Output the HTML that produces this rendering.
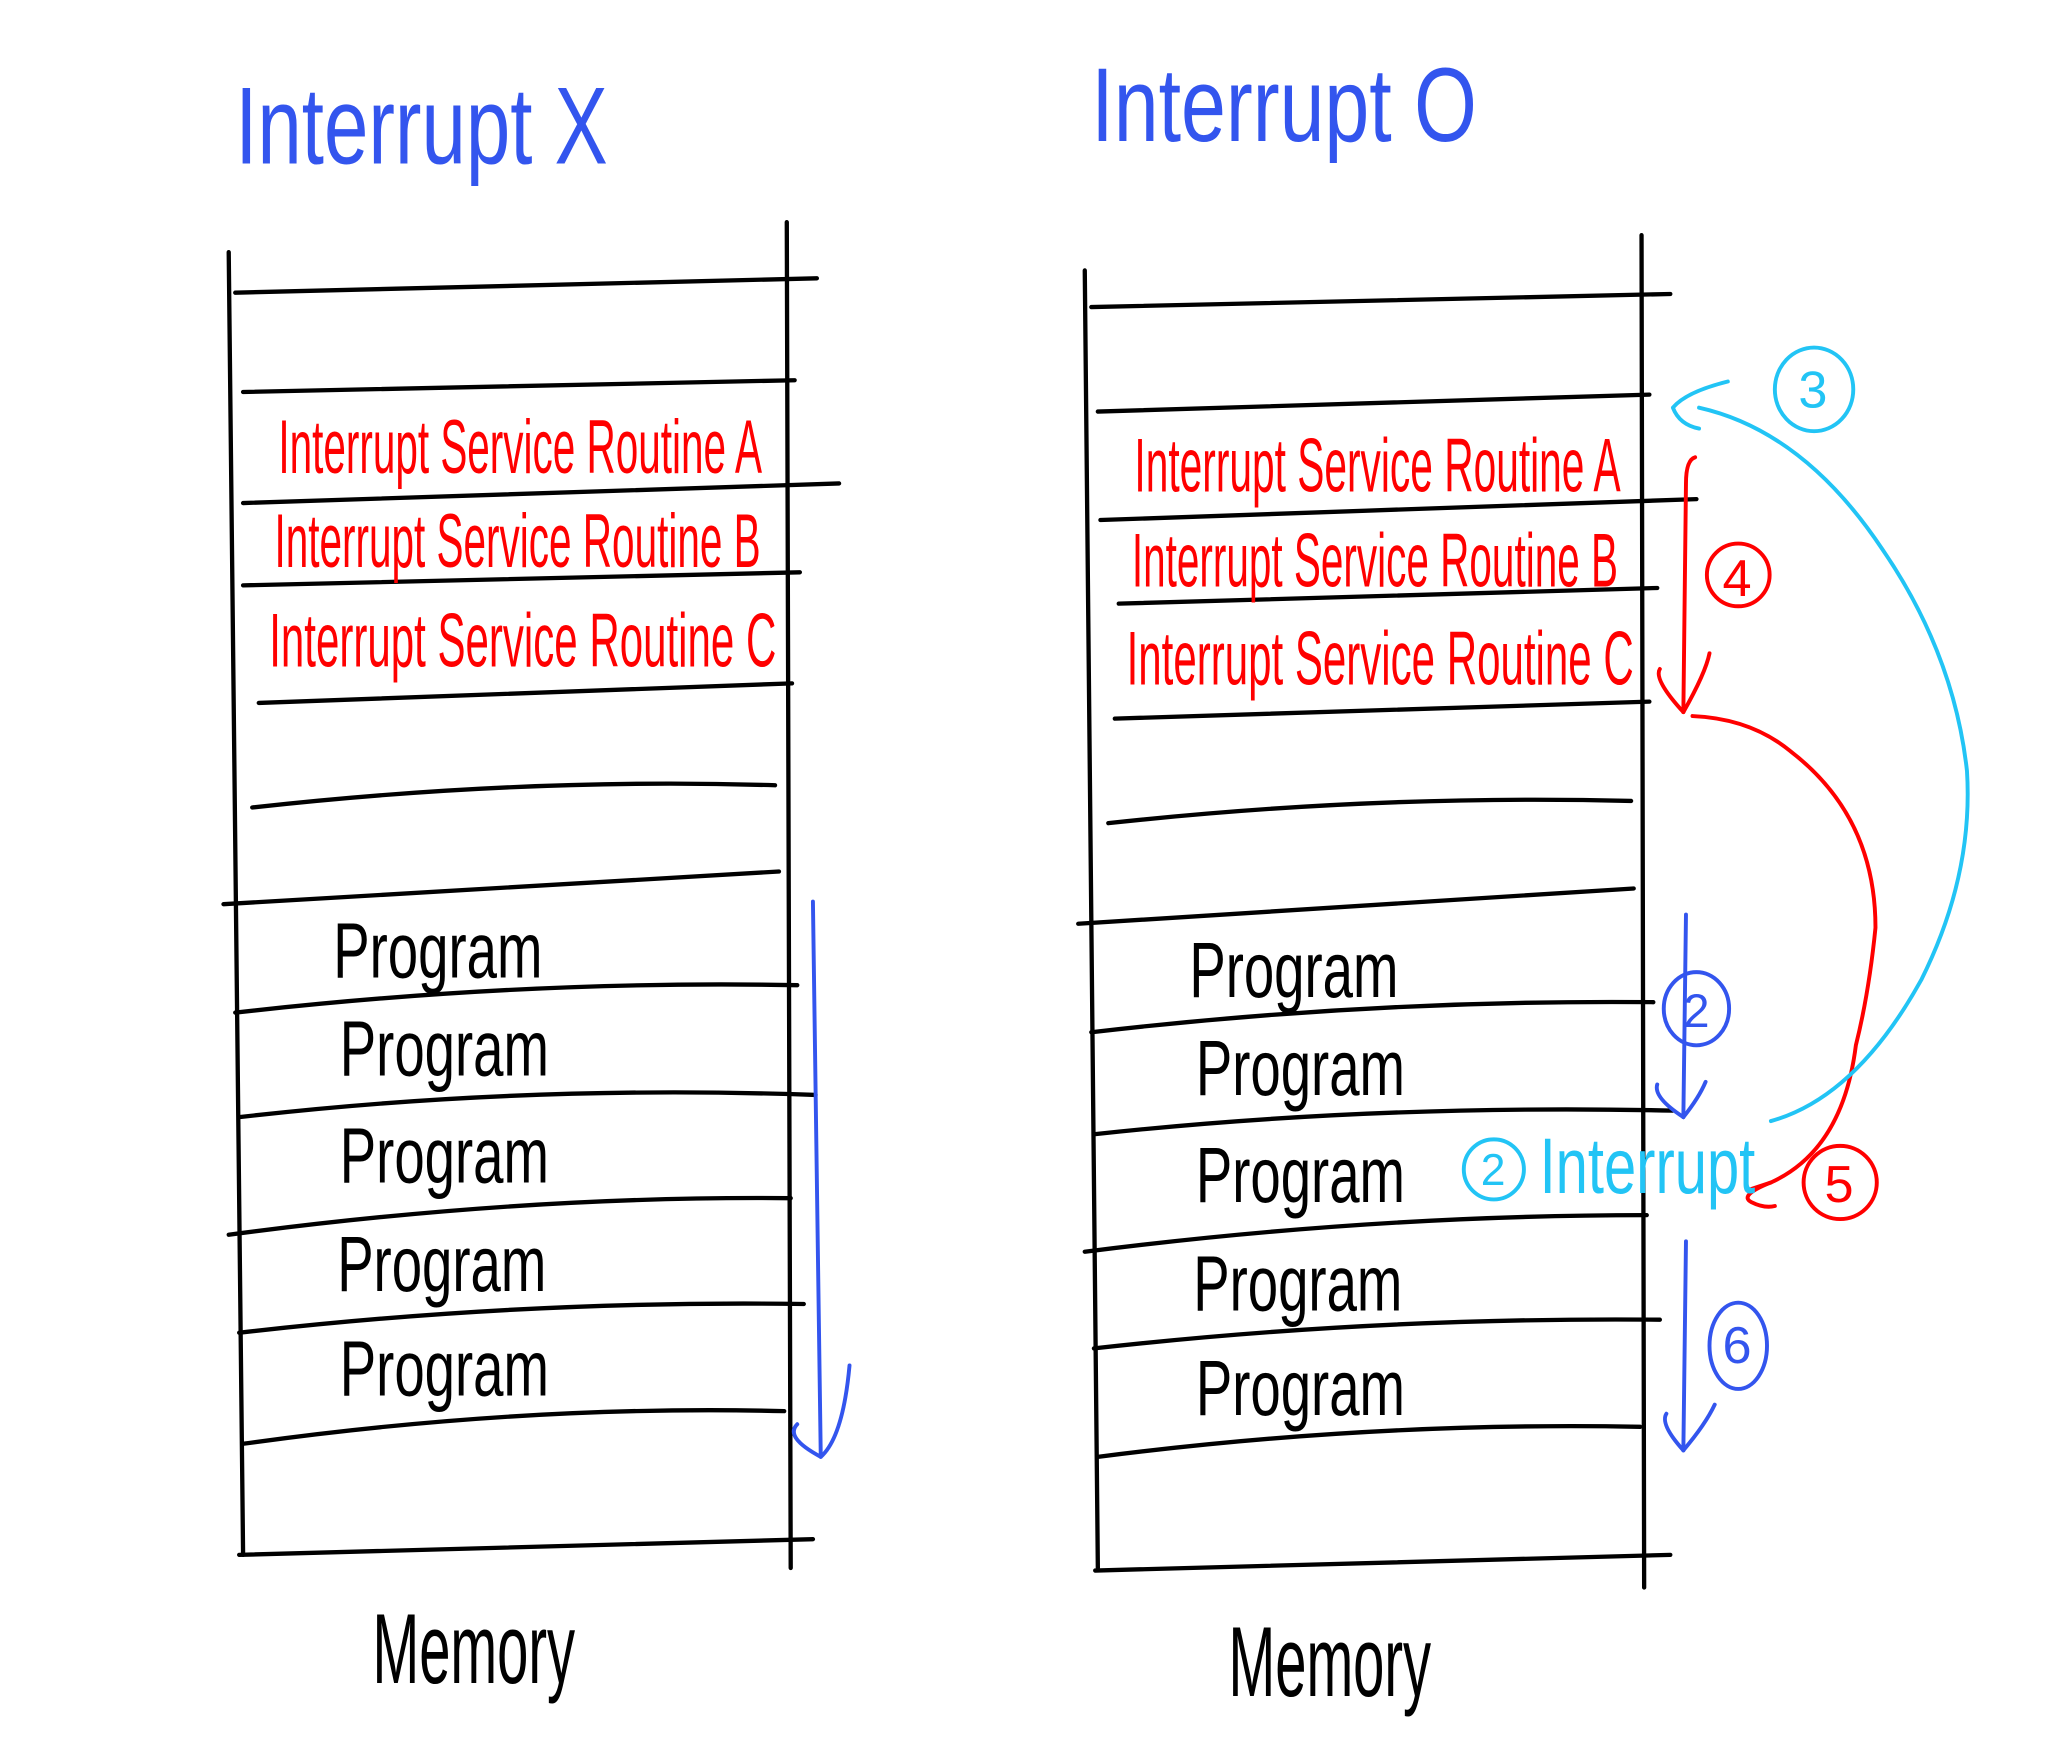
<!DOCTYPE html>
<html><head><meta charset="utf-8"><style>
html,body{margin:0;padding:0;background:#fff;width:2048px;height:1760px;overflow:hidden}
svg{display:block}
text{font-family:"Liberation Sans Narrow","Liberation Sans",sans-serif}
</style></head><body>
<svg width="2048" height="1760" viewBox="0 0 1567 1347" preserveAspectRatio="none" fill="none" stroke-linecap="round" stroke-linejoin="round">
<g>
<text x="180" y="125" font-size="84" fill="#3355ee" textLength="285" lengthAdjust="spacingAndGlyphs">Interrupt X</text>
<g stroke="#000" stroke-width="3.3">
<path d="M175 193 L186 1190"/><path d="M602 170 L605 1200"/>
<path d="M180 224 L625 213"/><path d="M186 300 L608 291"/><path d="M186 385 L642 370"/>
<path d="M186 448 L612 438"/><path d="M198 538 L606 523"/><path d="M193 618 Q400 595 593 601"/>
<path d="M171 692 L596 667"/><path d="M180 775 Q400 750 610 754"/><path d="M183 855 Q400 830 624 838"/>
<path d="M175 945 Q400 915 605 917"/><path d="M183 1020 Q400 995 615 998"/><path d="M186 1105 Q400 1075 600 1080"/>
<path d="M183 1190 L622 1178"/>
</g>
<g fill="#ff0000" font-size="58">
<text x="213" y="362" textLength="370" lengthAdjust="spacingAndGlyphs">Interrupt Service Routine A</text>
<text x="210" y="434" textLength="372" lengthAdjust="spacingAndGlyphs">Interrupt Service Routine B</text>
<text x="206" y="510" textLength="388" lengthAdjust="spacingAndGlyphs">Interrupt Service Routine C</text>
</g>
<g fill="#000" font-size="60">
<text x="255" y="748" textLength="160" lengthAdjust="spacingAndGlyphs">Program</text>
<text x="260" y="823" textLength="160" lengthAdjust="spacingAndGlyphs">Program</text>
<text x="260" y="905" textLength="160" lengthAdjust="spacingAndGlyphs">Program</text>
<text x="258" y="988" textLength="160" lengthAdjust="spacingAndGlyphs">Program</text>
<text x="260" y="1068" textLength="160" lengthAdjust="spacingAndGlyphs">Program</text>
</g>
<text x="285" y="1288" font-size="76" fill="#000" textLength="155" lengthAdjust="spacingAndGlyphs">Memory</text>
<g stroke="#3355ee" stroke-width="3"><path d="M622 690 L628 1115"/><path d="M650 1045 Q645 1100 628 1115 Q600 1100 610 1090"/></g>
</g>
<g>
<text x="835" y="108" font-size="80" fill="#3355ee" textLength="295" lengthAdjust="spacingAndGlyphs">Interrupt O</text>
<g stroke="#000" stroke-width="3.3">
<path d="M830 207 L840 1200"/><path d="M1256 180 L1258 1215"/>
<path d="M835 235 L1278 225"/><path d="M840 315 L1262 302"/><path d="M842 398 L1298 382"/>
<path d="M856 462 L1268 450"/><path d="M853 550 L1262 537"/><path d="M848 630 Q1050 608 1248 613"/>
<path d="M825 707 L1250 680"/><path d="M835 790 Q1050 765 1265 767"/><path d="M838 868 Q1050 845 1280 850"/>
<path d="M830 958 Q1050 930 1260 930"/><path d="M837 1032 Q1050 1008 1270 1010"/><path d="M840 1115 Q1050 1088 1255 1092"/>
<path d="M838 1202 L1278 1190"/>
</g>
<g fill="#ff0000" font-size="58">
<text x="868" y="376" textLength="372" lengthAdjust="spacingAndGlyphs">Interrupt Service Routine A</text>
<text x="866" y="449" textLength="372" lengthAdjust="spacingAndGlyphs">Interrupt Service Routine B</text>
<text x="862" y="524" textLength="388" lengthAdjust="spacingAndGlyphs">Interrupt Service Routine C</text>
</g>
<g fill="#000" font-size="60">
<text x="910" y="763" textLength="160" lengthAdjust="spacingAndGlyphs">Program</text>
<text x="915" y="838" textLength="160" lengthAdjust="spacingAndGlyphs">Program</text>
<text x="915" y="920" textLength="160" lengthAdjust="spacingAndGlyphs">Program</text>
<text x="913" y="1003" textLength="160" lengthAdjust="spacingAndGlyphs">Program</text>
<text x="915" y="1083" textLength="160" lengthAdjust="spacingAndGlyphs">Program</text>
</g>
<text x="940" y="1298" font-size="76" fill="#000" textLength="155" lengthAdjust="spacingAndGlyphs">Memory</text>
<g stroke="#ff0000" stroke-width="3">
<path d="M1297 350 Q1290 352 1290 370 L1288 545"/><path d="M1288 545 Q1265 520 1270 512"/>
<path d="M1288 545 Q1305 515 1308 500"/>
<circle cx="1330" cy="440" r="24"/></g>
<text x="1318" y="456" font-size="40" fill="#ff0000">4</text>
<g stroke="#ff0000" stroke-width="3">
<path d="M1295 548 Q1340 550 1370 575 Q1435 625 1435 710 Q1430 760 1420 800 Q1410 880 1355 905 Q1330 915 1340 920 Q1350 925 1358 923"/>
<path d="M1355 905 L1340 910"/>
<circle cx="1408" cy="905" r="28"/></g>
<text x="1396" y="920" font-size="40" fill="#ff0000">5</text>
<g stroke="#3355ee" stroke-width="3">
<path d="M1290 700 L1288 855"/><path d="M1288 855 Q1265 840 1268 830"/><path d="M1288 855 Q1300 840 1305 828"/>
<ellipse cx="1298" cy="772" rx="25" ry="28"/></g>
<text x="1288" y="786" font-size="36" fill="#3355ee">2</text>
<g stroke="#3355ee" stroke-width="3">
<path d="M1290 950 L1288 1110"/><path d="M1288 1110 Q1270 1090 1275 1082"/><path d="M1288 1110 Q1305 1090 1312 1075"/>
<ellipse cx="1330" cy="1030" rx="22" ry="33"/></g>
<text x="1318" y="1043" font-size="40" fill="#3355ee">6</text>
<g stroke="#22c4f5" stroke-width="3">
<path d="M1355 858 Q1420 840 1470 750 Q1510 670 1505 590 Q1495 500 1440 420 Q1380 330 1300 312"/>
<path d="M1322 292 Q1290 300 1280 312 Q1285 325 1300 328"/>
<ellipse cx="1388" cy="298" rx="30" ry="32"/>
<circle cx="1143" cy="895" r="23"/></g>
<text x="1376" y="312" font-size="40" fill="#22c4f5">3</text>
<text x="1133" y="907" font-size="34" fill="#22c4f5">2</text>
<text x="1178" y="913" font-size="60" fill="#22c4f5" textLength="165" lengthAdjust="spacingAndGlyphs">Interrupt</text>
</g>
</svg>
</body></html>
